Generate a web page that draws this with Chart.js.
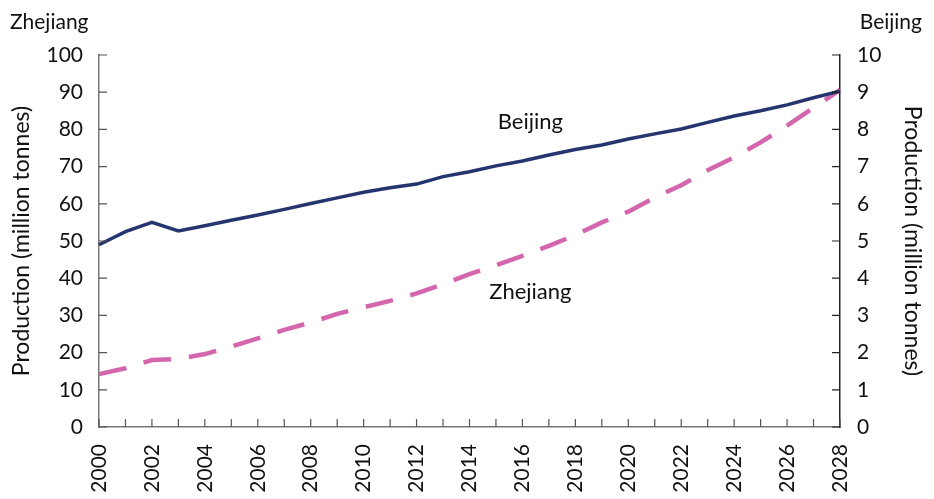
<!DOCTYPE html>
<html>
<head>
<meta charset="utf-8">
<script src="https://cdn.jsdelivr.net/npm/chart.js@4/dist/chart.umd.min.js"></script>
<style>
  html, body { margin: 0; padding: 0; background: #fff; }
  #wrap { width: 934px; height: 499px; }
</style>
</head>
<body>
<div id="wrap"><canvas id="myChart"></canvas></div>
<script>
const years = [];
for (let y = 2000; y <= 2028; y++) years.push(String(y));

// Zhejiang, left axis (million tonnes)
const zhejiang = [14.2, 15.8, 18.0, 18.3, 19.6, 21.6, 23.8, 26.1, 28.1, 30.4, 32.2, 33.9, 35.9, 38.4,
  41.1, 43.5, 46.0, 48.7, 51.6, 55.0, 57.9, 61.7, 65.0, 69.0, 72.5, 76.5, 81.0, 85.8, 90.6];

// Beijing, right axis (million tonnes)
const beijing = [4.90, 5.25, 5.50, 5.27, 5.41, 5.56, 5.70, 5.85, 6.01, 6.16, 6.31, 6.43, 6.53, 6.73,
  6.86, 7.02, 7.15, 7.31, 7.46, 7.58, 7.74, 7.88, 8.01, 8.19, 8.36, 8.50, 8.66, 8.85, 9.03];

const FONT = 'Lato';
const txt = '#111';

const innerTicks = {
  id: 'innerTicks',
  afterDraw(chart) {
    const ctx = chart.ctx;
    const x = chart.scales.x, yl = chart.scales.yL, yr = chart.scales.yR;
    const a = chart.chartArea;
    ctx.save();
    ctx.lineWidth = 1.2;
    ctx.strokeStyle = '#555';
    ctx.beginPath();
    years.forEach((y, i) => {
      const px = x.getPixelForValue(i);
      ctx.moveTo(px, a.bottom);
      ctx.lineTo(px, a.bottom - 8);
    });
    yl.ticks.forEach(t => {
      const py = yl.getPixelForValue(t.value);
      ctx.moveTo(a.left, py);
      ctx.lineTo(a.left + 8, py);
    });
    ctx.stroke();
    ctx.strokeStyle = '#222';
    ctx.beginPath();
    yr.ticks.forEach(t => {
      const py = yr.getPixelForValue(t.value);
      ctx.moveTo(a.right, py);
      ctx.lineTo(a.right - 8, py);
    });
    ctx.stroke();

    ctx.fillStyle = txt;
    ctx.font = '21px ' + FONT;
    ctx.textBaseline = 'middle';
    ctx.textAlign = 'left';
    ctx.fillText('Zhejiang', 10, 22);
    ctx.textAlign = 'right';
    ctx.fillText('Beijing', 922, 22);

    ctx.font = '22px ' + FONT;
    ctx.textAlign = 'center';
    ctx.fillText('Beijing', x.getPixelForValue(16.3), yl.getPixelForValue(82));
    ctx.fillText('Zhejiang', x.getPixelForValue(16.3), yl.getPixelForValue(36.3));
    ctx.restore();
  }
};

new Chart(document.getElementById('myChart'), {
  type: 'line',
  data: {
    labels: years,
    datasets: [
      {
        label: 'Beijing',
        data: beijing,
        yAxisID: 'yR',
        borderColor: '#253570',
        borderWidth: 3.5,
        pointRadius: 0,
        tension: 0,
        fill: false
      },
      {
        label: 'Zhejiang',
        data: zhejiang,
        yAxisID: 'yL',
        borderColor: '#d466ae',
        borderWidth: 4.5,
        borderDash: [28, 18],
        pointRadius: 0,
        tension: 0,
        fill: false
      }
    ]
  },
  options: {
    responsive: true,
    maintainAspectRatio: false,
    animation: false,
    layout: { padding: { top: 55, left: 0, right: 0, bottom: 0 } },
    plugins: {
      legend: { display: false },
      tooltip: { enabled: false }
    },
    scales: {
      x: {
        type: 'category',
        offset: false,
        grid: { display: false, drawTicks: false },
        border: { display: true, color: '#777', width: 1.5 },
        ticks: {
          autoSkip: false,
          maxRotation: 90,
          minRotation: 90,
          padding: 17,
          color: txt,
          font: { family: FONT, size: 21 },
          callback: function (v, i) { return i % 2 === 0 ? years[i] : ''; }
        },
        afterFit: s => { s.height = 72; }
      },
      yL: {
        position: 'left',
        min: 0,
        max: 100,
        grid: { display: false, drawTicks: false },
        border: { display: true, color: '#777', width: 1.5 },
        ticks: { stepSize: 10, padding: 16, color: txt, font: { family: FONT, size: 21 } },
        title: {
          display: true,
          text: 'Production (million tonnes)',
          color: txt,
          font: { family: FONT, size: 23 },
          padding: { top: 8, bottom: 0 }
        },
        afterFit: s => { s.width = 99; }
      },
      yR: {
        position: 'right',
        min: 0,
        max: 10,
        grid: { display: false, drawTicks: false },
        border: { display: true, color: '#222', width: 1.5 },
        ticks: { stepSize: 1, padding: 17, color: txt, font: { family: FONT, size: 21 } },
        title: {
          display: true,
          text: 'Production (million tonnes)',
          color: txt,
          font: { family: FONT, size: 23 },
          padding: { top: 8, bottom: 0 }
        },
        afterFit: s => { s.width = 94; }
      }
    }
  },
  plugins: [innerTicks]
});
</script>
</body>
</html>
